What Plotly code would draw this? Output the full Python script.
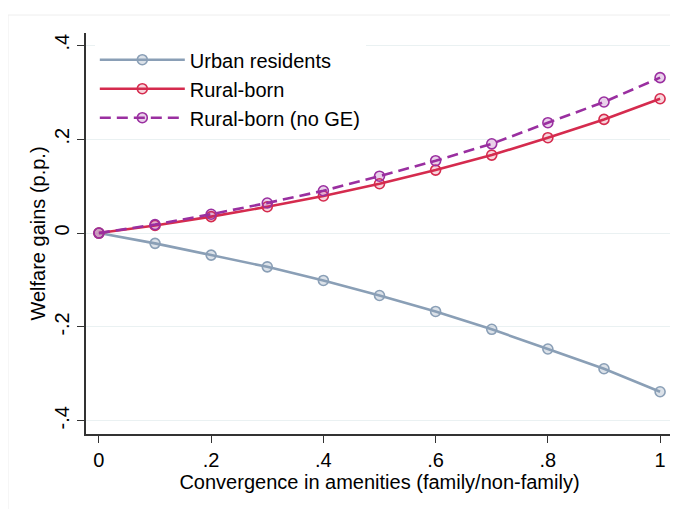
import plotly.graph_objects as go

x_vals = [0, 0.1, 0.2, 0.3, 0.4, 0.5, 0.6, 0.7, 0.8, 0.9, 1.0]
urban = [0, -0.022, -0.047, -0.072, -0.101, -0.133, -0.167, -0.205, -0.247, -0.289, -0.338]
rural = [0, 0.016, 0.035, 0.056, 0.079, 0.105, 0.134, 0.166, 0.203, 0.242, 0.286]
rural_nogE = [0, 0.018, 0.040, 0.064, 0.090, 0.121, 0.154, 0.190, 0.235, 0.279, 0.331]

x_ticks = [0, 0.2, 0.4, 0.6, 0.8, 1.0]
x_ticklabels = ["0", ".2", ".4", ".6", ".8", "1"]
y_ticks = [-0.4, -0.2, 0, 0.2, 0.4]
y_ticklabels = ["-.4", "-.2", "0", ".2", ".4"]

FONT = "Liberation Sans, Arial, sans-serif"

series = [
    ("Urban residents", urban, "#8a9fb6", "rgba(138,159,182,0.3)", "solid"),
    ("Rural-born", rural, "#d52b4e", "rgba(213,43,78,0.2)", "solid"),
    ("Rural-born (no GE)", rural_nogE, "#9a2fa0", "rgba(154,47,160,0.22)", "11px,6px"),
]

W, H = 670, 501
ML, MR, MT, MB = 78, 5, 25, 75
PW, PH = W - ML - MR, H - MT - MB

fig = go.Figure()
for name, ys, col, fill, dash in series:
    fig.add_trace(go.Scatter(
        x=x_vals, y=ys, name=name, mode="lines+markers",
        line=dict(color=col, width=2.6, dash=dash),
        marker=dict(symbol="circle", size=10, color=fill,
                    line=dict(color=col, width=1.6)),
    ))

fig.add_shape(type="rect", xref="paper", yref="paper",
              x0=-ML / PW, x1=(W + 20 - ML) / PW,
              y0=-(MB + 20) / PH, y1=1 + (MT - 7) / PH,
              line=dict(color="#eeeeee", width=1), layer="below")

fig.update_layout(
    width=W, height=H,
    margin=dict(l=ML, r=MR, t=MT, b=MB, autoexpand=False),
    paper_bgcolor="white", plot_bgcolor="white",
    font=dict(family=FONT, size=20, color="#000000"),
    showlegend=True,
    legend=dict(
        x=0.015, y=0.982, xanchor="left", yanchor="top",
        bgcolor="white", borderwidth=0,
        font=dict(family=FONT, size=20, color="#000000"),
        itemwidth=85, tracegroupgap=0,
    ),
    xaxis=dict(
        range=[-0.023, 1.023], automargin=False,
        tickvals=x_ticks, ticktext=x_ticklabels,
        ticks="outside", ticklen=7, tickwidth=1.3, tickcolor="#333333",
        showline=True, linecolor="#333333", linewidth=1.5,
        showgrid=False, zeroline=False,
        title=dict(text="Convergence in amenities (family/non-family)",
                   font=dict(size=20), standoff=0),
        tickfont=dict(size=20),
    ),
    yaxis=dict(
        range=[-0.428, 0.426], automargin=False,
        tickvals=y_ticks, ticktext=y_ticklabels, tickangle=-90,
        ticks="outside", ticklen=7, tickwidth=1.3, tickcolor="#333333",
        showline=True, linecolor="#333333", linewidth=1.5,
        showgrid=True, gridcolor="#eaf1f2", gridwidth=1.3,
        zeroline=False,
        title=dict(text="Welfare gains (p.p.)", font=dict(size=20), standoff=0),
        tickfont=dict(size=20),
    ),
)

fig.write_html("out.html")
